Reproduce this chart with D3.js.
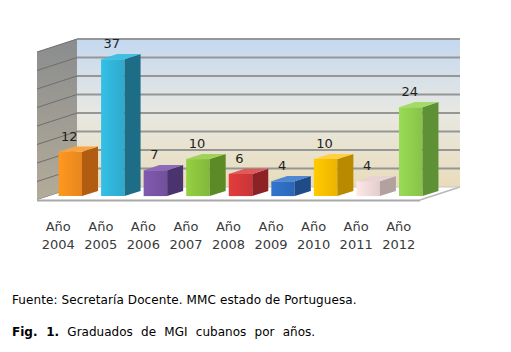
<!DOCTYPE html>
<html><head><meta charset="utf-8">
<script src="https://cdn.jsdelivr.net/npm/d3@7"></script>
<style>html,body{margin:0;padding:0;background:#fff;}svg{display:block;}</style>
</head><body>
<script>
const years = ["2004","2005","2006","2007","2008","2009","2010","2011","2012"];
const values = [12, 37, 7, 10, 6, 4, 10, 4, 24];
const axisTicks = [0, 5, 10, 15, 20, 25, 30, 35, 40];
const frontColors = ["#F7901E","#31B6DB","#7A55A8","#8CC63F","#D8393B","#2F6FC4","#FFC000","#F2DCDB","#92D050"];
const sideColors  = ["#B25C12","#1E6D87","#4B3370","#5C8A27","#8C2225","#1F4B88","#B98900","#B3A1A0","#5E9136"];
const topColors   = ["#F9A444","#3FBFE2","#8B6BB8","#A0D25A","#E05A5A","#4F88D2","#FFD040","#E9D3D2","#A4DA68"];
const caption1 = "Fuente: Secretaría Docente. MMC estado de Portuguesa.";
const captionBold = "Fig. 1.";
const caption2 = "Graduados de MGI cubanos por años.";

const W = 511, H = 352;
const svg = d3.select("body").append("svg").attr("width", W).attr("height", H);
const defs = svg.append("defs");

const x0 = 37, x1 = 420, baseY = 200, depthX = 40, depthY = -13;
const x = d3.scaleBand().domain(years).range([x0, x1]);
const h = d3.scaleLinear().domain([0, 40]).range([0, 148]);
const P = (xf, d, v) => [xf + depthX * d, baseY + depthY * d - h(v)];
const pts = arr => arr.map(p => p.join(",")).join(" ");

const gBack = defs.append("linearGradient").attr("id","gBack").attr("x1",0).attr("y1",0).attr("x2",0).attr("y2",1);
gBack.append("stop").attr("offset","0%").attr("stop-color","#C4D8F0");
gBack.append("stop").attr("offset","50%").attr("stop-color","#E8E8E2");
gBack.append("stop").attr("offset","100%").attr("stop-color","#E9DCBA");
const gLeft = defs.append("linearGradient").attr("id","gLeft").attr("x1",0).attr("y1",0).attr("x2",0).attr("y2",1);
gLeft.append("stop").attr("offset","0%").attr("stop-color","#8A8C8E");
gLeft.append("stop").attr("offset","100%").attr("stop-color","#B4AC99");

svg.append("polygon").attr("points", pts([P(x0,1,40), P(x1,1,40), P(x1,1,0), P(x0,1,0)])).attr("fill","url(#gBack)");
svg.append("polygon").attr("points", pts([P(x0,0,40), P(x0,1,40), P(x0,1,0), P(x0,0,0)])).attr("fill","url(#gLeft)");

axisTicks.forEach(v => {
  const a = P(x0,1,v), b = P(x1,1,v), c = P(x0,0,v);
  if (v > 0) {
    svg.append("line").attr("x1",a[0]).attr("y1",a[1]).attr("x2",b[0]).attr("y2",b[1])
      .attr("stroke","#969696").attr("stroke-width",1.8);
  }
  svg.append("line").attr("x1",c[0]).attr("y1",c[1]).attr("x2",a[0]).attr("y2",a[1])
    .attr("stroke","#6E6E6E").attr("stroke-width",1);
});

svg.append("polygon").attr("points", pts([P(x0,0,0), P(x1,0,0), P(x1,1,0), P(x0,1,0)]))
  .attr("fill","#FFFFFF").attr("stroke","none");
svg.append("line").attr("x1",P(x0,0,0)[0]).attr("y1",P(x0,0,0)[1]+0.5).attr("x2",P(x1,0,0)[0]).attr("y2",P(x1,0,0)[1]+0.5)
  .attr("stroke","#A8A8A8").attr("stroke-width",2);
svg.append("line").attr("x1",P(x1,0,0)[0]).attr("y1",P(x1,0,0)[1]).attr("x2",P(x1,1,0)[0]).attr("y2",P(x1,1,0)[1])
  .attr("stroke","#B8B8B8").attr("stroke-width",1.5);
svg.append("line").attr("x1",P(x0,1,0)[0]).attr("y1",P(x0,1,0)[1]).attr("x2",P(x1,1,0)[0]).attr("y2",P(x1,1,0)[1])
  .attr("stroke","#C8C8C8").attr("stroke-width",1);

const d0 = 0.3, d1 = 0.7, barW = 23.5;
years.forEach((yr, i) => {
  const v = values[i];
  const xl = x(yr) + (x.bandwidth() - barW) / 2, xr = xl + barW;
  const gid = "gf" + i;
  const gf = defs.append("linearGradient").attr("id", gid).attr("x1",0).attr("y1",0).attr("x2",1).attr("y2",0);
  gf.append("stop").attr("offset","0%").attr("stop-color", d3.color(frontColors[i]).brighter(0.15));
  gf.append("stop").attr("offset","100%").attr("stop-color", d3.color(frontColors[i]).darker(0.2));
  svg.append("polygon").attr("points", pts([P(xl,d0,v), P(xr,d0,v), P(xr,d0,0), P(xl,d0,0)])).attr("fill", "url(#"+gid+")");
  svg.append("polygon").attr("points", pts([P(xr,d0,v), P(xr,d1,v), P(xr,d1,0), P(xr,d0,0)])).attr("fill", sideColors[i]);
  svg.append("polygon").attr("points", pts([P(xl,d0,v), P(xl,d1,v), P(xr,d1,v), P(xr,d0,v)])).attr("fill", topColors[i]);
  const t = P(xl + barW/2, d0, v);
  svg.append("text").attr("x", t[0] - 1).attr("y", t[1] - 11).attr("text-anchor","middle")
    .attr("font-family","DejaVu Sans, Verdana, sans-serif").attr("font-size",13).attr("fill","#1E1E1E").text(v);
});

years.forEach(yr => {
  const cx = x(yr) + x.bandwidth()/2;
  const t = svg.append("text").attr("text-anchor","middle").attr("font-family","DejaVu Sans, Verdana, sans-serif")
    .attr("font-size",13).attr("fill","#3A3A3A");
  t.append("tspan").attr("x", cx).attr("y", 230.5).text("Año");
  t.append("tspan").attr("x", cx).attr("y", 249).text(yr);
});

svg.append("text").attr("x", 12).attr("y", 304).attr("font-family","DejaVu Sans, Verdana, sans-serif")
  .attr("font-size",12).attr("fill","#000").attr("letter-spacing",0.1).text(caption1);
const c2 = svg.append("text").attr("x", 12).attr("y", 336).attr("font-family","DejaVu Sans, Verdana, sans-serif")
  .attr("font-size",12).attr("fill","#000").attr("word-spacing",4.5);
c2.append("tspan").attr("font-weight","bold").text(captionBold);
c2.append("tspan").text(" " + caption2);
</script>
</body></html>
